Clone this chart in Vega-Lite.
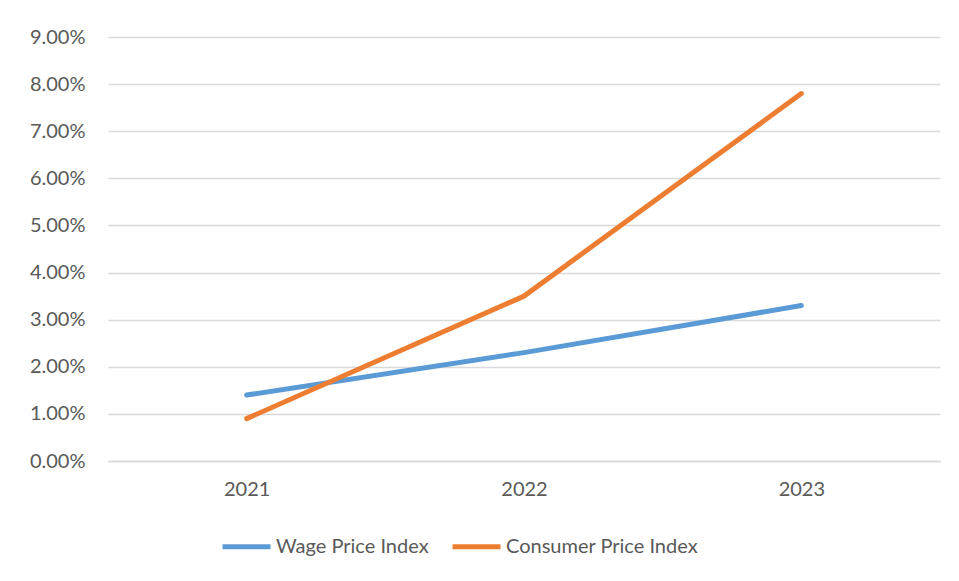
{
  "$schema": "https://vega.github.io/schema/vega-lite/v6.json",
  "width": 832,
  "height": 424,
  "autosize": {"type": "none"},
  "padding": {"left": 108, "top": 37, "right": 19, "bottom": 120},
  "background": "white",
  "config": {
    "font": "Lato",
    "view": {"stroke": null},
    "axis": {"labelFont": "Lato", "labelFontSize": 20, "labelColor": "#595959", "ticks": false, "tickSize": 0, "title": null}
  },
  "data": {
    "values": [
      {"year": "2021", "series": "Wage Price Index", "value": 0.014},
      {"year": "2022", "series": "Wage Price Index", "value": 0.023},
      {"year": "2023", "series": "Wage Price Index", "value": 0.033},
      {"year": "2021", "series": "Consumer Price Index", "value": 0.009},
      {"year": "2022", "series": "Consumer Price Index", "value": 0.035},
      {"year": "2023", "series": "Consumer Price Index", "value": 0.078}
    ]
  },
  "mark": {"type": "line", "strokeWidth": 5, "strokeCap": "round", "strokeJoin": "round"},
  "encoding": {
    "x": {
      "field": "year", "type": "ordinal",
      "scale": {"type": "point", "padding": 0.5},
      "axis": {"labelAngle": 0, "labelPadding": 18, "grid": false, "domain": true, "domainColor": "#d9d9d9", "domainWidth": 1.5}
    },
    "y": {
      "field": "value", "type": "quantitative",
      "scale": {"domain": [0, 0.09], "nice": false},
      "axis": {"format": ".2%", "values": [0, 0.01, 0.02, 0.03, 0.04, 0.05, 0.06, 0.07, 0.08, 0.09], "labelPadding": 23, "domain": false, "grid": true, "gridColor": "#d9d9d9", "gridWidth": 1.5}
    },
    "color": {
      "field": "series", "type": "nominal",
      "scale": {"domain": ["Wage Price Index", "Consumer Price Index"], "range": ["#5B9BD5", "#ED7D31"]},
      "legend": {
        "title": null, "orient": "none", "direction": "horizontal",
        "legendX": 112, "legendY": 483,
        "symbolType": "stroke", "symbolSize": 2304, "symbolStrokeWidth": 5,
        "labelFontSize": 20, "labelColor": "#595959", "labelFont": "Lato", "labelLimit": 0,
        "labelOffset": 3, "columnPadding": 13
      }
    }
  }
}
